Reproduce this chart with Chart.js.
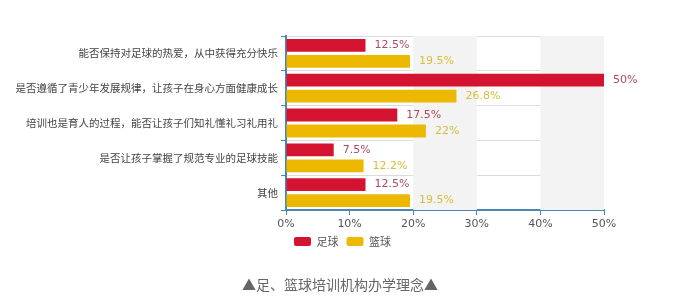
<!DOCTYPE html>
<html>
<head>
<meta charset="utf-8">
<script src="https://cdn.jsdelivr.net/npm/chart.js@4/dist/chart.umd.min.js"></script>
<style>
  html, body { margin: 0; padding: 0; background: #fff; }
  #wrap { position: relative; width: 686px; height: 308px; }
  #title {
    position: absolute; left: 0; width: 680px; top: 274px;
    text-align: center; color: #666;
    font: 14px "Noto Sans CJK SC", sans-serif;
  }
</style>
</head>
<body>
<div id="wrap">
  <canvas id="myChart" width="686" height="308"></canvas>
  <div id="title"></div>
</div>
<script>
var categories = [
  '能否保持对足球的热爱，从中获得充分快乐',
  '是否遵循了青少年发展规律，让孩子在身心方面健康成长',
  '培训也是育人的过程，能否让孩子们知礼懂礼习礼用礼',
  '是否让孩子掌握了规范专业的足球技能',
  '其他'
];
var football = [12.5, 50, 17.5, 7.5, 12.5];
var basketball = [19.5, 26.8, 22, 12.2, 19.5];
var seriesNames = ['足球', '篮球'];
var xTicks = [0, 10, 20, 30, 40, 50];
var chartTitle = '▲足、篮球培训机构办学理念▲';

document.getElementById('title').textContent = chartTitle;

// шкала з чергуванням фону
var bandsPlugin = {
  id: 'bands',
  beforeDatasetsDraw: function (chart) {
    var ctx = chart.ctx, x = chart.scales.x, a = chart.chartArea;
    ctx.save();
    ctx.fillStyle = '#f3f3f3';
    [[20, 30], [40, 50]].forEach(function (b) {
      var x0 = x.getPixelForValue(b[0]), x1 = x.getPixelForValue(b[1]);
      ctx.fillRect(x0, a.top, x1 - x0, a.bottom - a.top);
    });
    ctx.restore();
  }
};

// підписи значень біля стовпців
var labelsPlugin = {
  id: 'valueLabels',
  afterDatasetsDraw: function (chart) {
    var ctx = chart.ctx;
    var colors = ['#ad4a62', '#d6bd3c'];
    ctx.save();
    ctx.font = '11px "DejaVu Sans", sans-serif';
    ctx.textBaseline = 'middle';
    ctx.textAlign = 'left';
    chart.data.datasets.forEach(function (ds, i) {
      chart.getDatasetMeta(i).data.forEach(function (bar, j) {
        ctx.fillStyle = colors[i];
        ctx.fillText(ds.data[j] + '%', bar.x + 9, bar.y);
      });
    });
    ctx.restore();
  }
};

var ctx = document.getElementById('myChart').getContext('2d');
var chart = new Chart(ctx, {
  type: 'bar',
  data: {
    labels: categories,
    datasets: [{
        label: seriesNames[0],
        data: football,
        backgroundColor: '#d3132f',
        categoryPercentage: 0.92,
        barPercentage: 0.8
      },
      {
        label: seriesNames[1],
        data: basketball,
        backgroundColor: '#ecb900',
        categoryPercentage: 0.92,
        barPercentage: 0.8
      }
    ]
  },
  options: {
    indexAxis: 'y',
    responsive: false,
    animation: false,
    layout: { padding: { top: 36, right: 82, left: 0, bottom: 51 } },
    scales: {
      x: {
        z: 1,
        min: 0,
        max: 50,
        afterBuildTicks: function (s) { s.ticks = xTicks.map(function (v) { return { value: v }; }); },
        afterFit: function (s) { s.height = 18; },
        ticks: {
          callback: function (v) { return v + '%'; },
          color: '#555',
          font: { family: '"DejaVu Sans", sans-serif', size: 11 },
          padding: 3
        },
        grid: { drawOnChartArea: false, tickLength: 5, tickColor: '#4b87b4' },
        border: { color: '#4b87b4', width: 2 }
      },
      y: {
        afterFit: function (s) { s.width = 286; },
        ticks: {
          color: '#444',
          font: { family: '"Noto Sans CJK SC", sans-serif', size: 10.5 },
          padding: 3
        },
        grid: { color: '#dcdcdc', tickLength: 5, tickColor: '#4b87b4' },
        border: { color: '#4b87b4', width: 2 }
      }
    },
    plugins: {
      legend: {
        position: 'bottom',
        align: 'start',
        fullSize: false,
        labels: {
          boxWidth: 17,
          boxHeight: 9,
          useBorderRadius: true,
          borderRadius: 2,
          color: '#555',
          padding: 8,
          font: { family: '"Noto Sans CJK SC", sans-serif', size: 11 }
        }
      },
      tooltip: { enabled: false }
    }
  },
  plugins: [bandsPlugin, labelsPlugin]
});
</script>
</body>
</html>
